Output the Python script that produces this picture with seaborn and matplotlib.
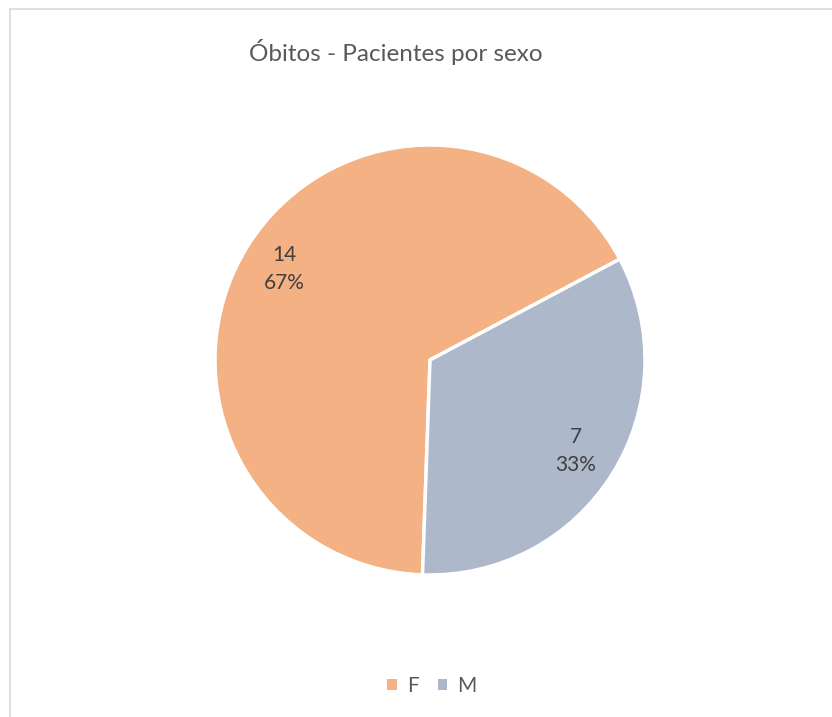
import matplotlib
matplotlib.use("Agg")
import matplotlib.pyplot as plt
import seaborn as sns
from matplotlib.patches import Rectangle, Patch

categories = ["F", "M"]
values = [14, 7]
title = "Óbitos - Pacientes por sexo"

sns.set_theme(style="white")
plt.rcParams['font.family'] = ['Lato', 'DejaVu Sans']
colors = ["#F4B183", "#ADB9CA"]

W, H = 832, 717
fig = plt.figure(figsize=(W / 100, H / 100), dpi=100)

# chart border
fig.patches.append(Rectangle((10 / W, -0.01), 1.0, (H - 9) / H + 0.01, transform=fig.transFigure,
                             fill=False, edgecolor="#D9D9D9", linewidth=1.2))

cx, cy, r = 430, 360, 215
ax = fig.add_axes([(cx - r) / W, (H - cy - r) / H, 2 * r / W, 2 * r / H])
total = sum(values)

def fmt(pct):
    v = int(round(pct * total / 100))
    return f"{v}\n{pct:.0f}%"

wedges, texts, autotexts = ax.pie(values, colors=colors, startangle=-92, counterclock=False,
                                  autopct=fmt, pctdistance=0.8, radius=1,
                                  wedgeprops=dict(edgecolor="white", linewidth=2.5),
                                  textprops=dict(color="#404040", fontsize=15, linespacing=1.5))
for w in wedges:
    w.set_clip_on(False)
ax.set_xlim(-1.0, 1.0)
ax.set_ylim(-1.0, 1.0)
ax.set_aspect("equal")
ax.axis("off")

fig.text(396 / W, 1 - 52 / H, title, ha="center", va="center", fontsize=17.5, color="#595959")

handles = [Patch(facecolor=c, edgecolor="none") for c in colors]
fig.legend(handles, categories, loc="center", bbox_to_anchor=(432 / W, 1 - 686 / H), ncol=2,
           frameon=False, fontsize=15, labelcolor="#595959", handlelength=0.45, handleheight=0.45,
           handletextpad=0.5, columnspacing=0.9)

fig.savefig("out.png", dpi=100)
